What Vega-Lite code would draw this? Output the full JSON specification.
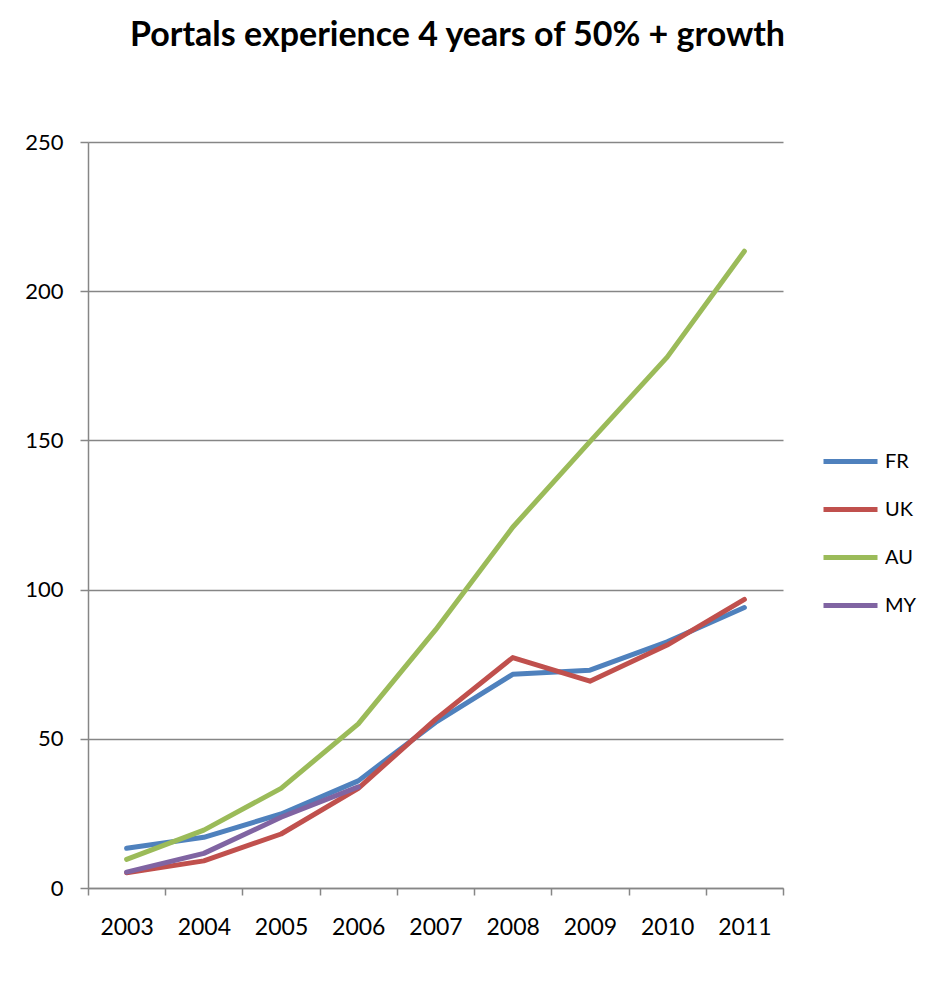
{
  "$schema": "https://vega.github.io/schema/vega-lite/v6.json",
  "width": 695,
  "height": 746,
  "autosize": {"type": "none"},
  "padding": {"left": 88, "top": 142, "right": 147, "bottom": 96},
  "background": "white",
  "title": {
    "text": "Portals experience 4 years of 50% + growth",
    "font": "Lato",
    "fontSize": 34,
    "fontWeight": "bold",
    "color": "black",
    "anchor": "middle",
    "dx": 22,
    "offset": 78
  },
  "data": {
    "values": [
      {"year": "2003", "country": "FR", "value": 13.3},
      {"year": "2004", "country": "FR", "value": 17.0},
      {"year": "2005", "country": "FR", "value": 24.8},
      {"year": "2006", "country": "FR", "value": 35.9},
      {"year": "2007", "country": "FR", "value": 55.5},
      {"year": "2008", "country": "FR", "value": 71.6},
      {"year": "2009", "country": "FR", "value": 73.0},
      {"year": "2010", "country": "FR", "value": 82.5},
      {"year": "2011", "country": "FR", "value": 94.0},
      {"year": "2003", "country": "UK", "value": 5.1},
      {"year": "2004", "country": "UK", "value": 9.1},
      {"year": "2005", "country": "UK", "value": 18.1},
      {"year": "2006", "country": "UK", "value": 33.4},
      {"year": "2007", "country": "UK", "value": 56.5},
      {"year": "2008", "country": "UK", "value": 77.2},
      {"year": "2009", "country": "UK", "value": 69.3},
      {"year": "2010", "country": "UK", "value": 81.4},
      {"year": "2011", "country": "UK", "value": 96.7},
      {"year": "2003", "country": "AU", "value": 9.6},
      {"year": "2004", "country": "AU", "value": 19.4},
      {"year": "2005", "country": "AU", "value": 33.4},
      {"year": "2006", "country": "AU", "value": 55.0},
      {"year": "2007", "country": "AU", "value": 86.5},
      {"year": "2008", "country": "AU", "value": 120.9},
      {"year": "2009", "country": "AU", "value": 149.6},
      {"year": "2010", "country": "AU", "value": 177.9},
      {"year": "2011", "country": "AU", "value": 213.4},
      {"year": "2003", "country": "MY", "value": 5.3},
      {"year": "2004", "country": "MY", "value": 11.6},
      {"year": "2005", "country": "MY", "value": 23.7},
      {"year": "2006", "country": "MY", "value": 33.9}
    ]
  },
  "mark": {"type": "line", "strokeWidth": 5, "strokeCap": "round", "strokeJoin": "round"},
  "encoding": {
    "x": {
      "field": "year",
      "type": "ordinal",
      "scale": {"type": "band", "paddingInner": 0, "paddingOuter": 0},
      "axis": {
        "title": null,
        "labelAngle": 0,
        "tickBand": "extent",
        "tickSize": 7,
        "tickColor": "#868686",
        "tickWidth": 1.5,
        "domainColor": "#868686",
        "domainWidth": 1.5,
        "labelFont": "Lato",
        "labelFontSize": 23,
        "labelColor": "black",
        "labelPadding": 21,
        "grid": false
      }
    },
    "y": {
      "field": "value",
      "type": "quantitative",
      "scale": {"domain": [0, 250], "nice": false},
      "axis": {
        "title": null,
        "values": [0, 50, 100, 150, 200, 250],
        "tickSize": 8,
        "tickColor": "#868686",
        "tickWidth": 1.5,
        "domainColor": "#868686",
        "domainWidth": 1.5,
        "grid": true,
        "gridColor": "#868686",
        "gridWidth": 1.5,
        "labelFont": "Lato",
        "labelFontSize": 22,
        "labelColor": "black",
        "labelPadding": 17
      }
    },
    "color": {
      "field": "country",
      "type": "nominal",
      "scale": {"domain": ["FR", "UK", "AU", "MY"], "range": ["#4F81BD", "#C0504D", "#9BBB59", "#8064A2"]},
      "legend": {
        "title": null,
        "orient": "none",
        "legendX": 733,
        "legendY": 290,
        "symbolType": "stroke",
        "symbolSize": 2916,
        "symbolStrokeWidth": 5,
        "labelFont": "Lato",
        "labelFontSize": 20,
        "labelColor": "black",
        "labelOffset": 5,
        "rowPadding": 8
      }
    }
  },
  "config": {"view": {"stroke": null}}
}
